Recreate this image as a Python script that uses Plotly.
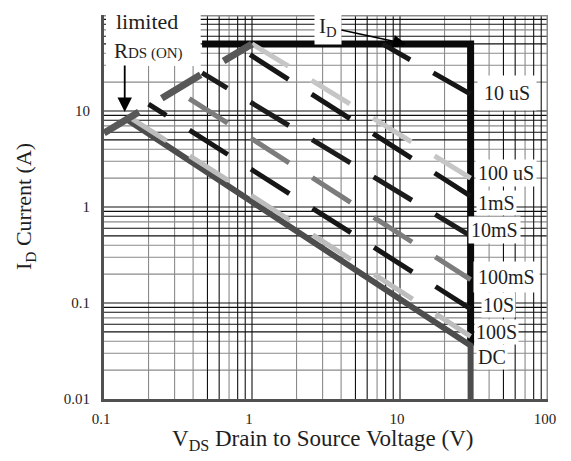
import math
import plotly.graph_objects as go

# ---------------- data ----------------
durations = ["10 uS", "100 uS", "1mS", "10mS", "100mS", "10S", "100S", "DC"]
start_vds = [7.6, 1.0, 0.85, 0.46, 0.30, 0.20, 0.138, 0.138]
start_id = [50, 50, 44, 25, 16.9, 11.8, 9.3, 8.45]
end_vds = [30, 30, 30, 30, 30, 30, 30, 30]
end_id = [15, 2.0, 1.3, 0.5, 0.175, 0.087, 0.045, 0.036]

rds_vds = [0.1, 1.0]
rds_id = [5.9, 50]

id_limit_vds = [0.46, 30, 30]
id_limit_id = [50, 50, 0.036]

x_ticks = [0.1, 1, 10, 100]
x_ticktext = ["0.1", "1", "10", "100"]
y_ticks = [0.01, 0.1, 1, 10, 100]
y_ticktext = ["0.01", "0.1", "1", "10", "100"]

# ---------------- styling ----------------
PAGE = 8                     # default body margin of the html page
PLOT_L, PLOT_T = 104, 15     # plot area corner in the window
PW, PH = 450, 384
W, H = 571 - 2 * PAGE, 461 - 2 * PAGE
L, T = PLOT_L - PAGE, PLOT_T - PAGE
R, B = W - L - PW, H - T - PH
XR = (-1, 2)
YR = (-2, 2)
FONT = "Liberation Serif"
TXT = "#1e1e1e"

line_style = {
    "10 uS": ("#161616", 5),
    "100 uS": ("#c6c6c6", 5),
    "1mS": ("#161616", 5),
    "10mS": ("#1c1c1c", 5),
    "100mS": ("#7c7c7c", 5),
    "10S": ("#161616", 5),
    "100S": ("#bdbdbd", 5),
    "DC": ("#4d4d4d", 6),
}


def to_px(v, i):
    x = PLOT_L + PW * (math.log10(v) - XR[0]) / (XR[1] - XR[0])
    y = PLOT_T + PH * (YR[1] - math.log10(i)) / (YR[1] - YR[0])
    return x, y


def px_paper_x(x):
    return (x - PLOT_L) / PW


def px_paper_y(y):
    return (PLOT_T + PH - y) / PH


def dash_for(v0, i0, v1, i1, col0, period=61.75, on=38.5):
    x0, y0 = to_px(v0, i0)
    x1, y1 = to_px(v1, i1)
    length = math.hypot(x1 - x0, y1 - y0)
    f = length / abs(x1 - x0)
    p = (x0 - col0) % period
    if p < on:
        seq = [(on - p) * f, (period - on) * f]
    else:
        seq = [0.0, (period - p) * f]
    total = sum(seq)
    while total < length + period * f:
        seq += [on * f, (period - on) * f]
        total += period * f
    return ",".join(f"{s:.2f}px" for s in seq)


fig = go.Figure()

# ---- grid (mixed black / grey lines, as in the scanned sheet) ----
black_m = {1, 5, 6, 8, 9}
gx = {"k": ([], []), "g": ([], [])}
for dec in [0.1, 1, 10]:
    for m in range(1, 10):
        v = m * dec
        if v <= 0.1:
            continue
        key = "k" if m in black_m else "g"
        gx[key][0].extend([v, v, None])
        gx[key][1].extend([0.01, 100, None])
for dec in [0.01, 0.1, 1, 10]:
    for m in range(1, 10):
        i = m * dec
        if i <= 0.01:
            continue
        key = "k" if m in black_m else "g"
        gx[key][0].extend([0.1, 100, None])
        gx[key][1].extend([i, i, None])
for key, col in (("g", "#8a8a8a"), ("k", "#111111")):
    fig.add_trace(go.Scatter(x=gx[key][0], y=gx[key][1], mode="lines",
                             line=dict(color=col, width=1.1),
                             hoverinfo="skip", showlegend=False))
# outer right / top border
fig.add_trace(go.Scatter(x=[0.1, 100, 100, None], y=[100, 100, 0.01, None], mode="lines",
                         line=dict(color="#8a8a8a", width=3), hoverinfo="skip", showlegend=False))

# ---- I_D limit and V_DS limit ----
fig.add_trace(go.Scatter(x=id_limit_vds, y=id_limit_id, mode="lines",
                         line=dict(color="#0a0a0a", width=7),
                         hoverinfo="skip", showlegend=False))

# ---- SOA curves ----
order = ["DC", "100S", "10S", "100mS", "10mS", "1mS", "100 uS", "10 uS"]
for name in order:
    k = durations.index(name)
    col, wdt = line_style[name]
    if name == "DC":
        dash = "solid"
        xs = [start_vds[k], end_vds[k], end_vds[k]]
        ys = [start_id[k], end_id[k], 0.01]
    else:
        dash = dash_for(start_vds[k], start_id[k], end_vds[k], end_id[k], col0=PLOT_L + 24.5)
        xs = [start_vds[k], end_vds[k]]
        ys = [start_id[k], end_id[k]]
    fig.add_trace(go.Scatter(x=xs, y=ys, mode="lines", name=name,
                             line=dict(color=col, width=wdt, dash=dash),
                             showlegend=False))

# ---- R_DS(on) limit (dashed) ----
fig.add_trace(go.Scatter(x=rds_vds, y=rds_id, mode="lines",
                         line=dict(color="#585858", width=7,
                                   dash=dash_for(rds_vds[0], rds_id[0], rds_vds[1], rds_id[1],
                                                 col0=100, period=62, on=39)),
                         showlegend=False))

# ---- annotations ----
ann = []
label_left = [488, 482, 482, 475, 482, 487, 480, 482]
label_y = [93, 173, 203, 230, 277, 305, 332, 357]
label_pad = [6, 2, 1, 2, 4, 1, 1, 1]
for name, lx, ly, pd in zip(durations, label_left, label_y, label_pad):
    ann.append(dict(text=name, xref="paper", yref="paper",
                    x=px_paper_x(lx - pd), y=px_paper_y(ly), xanchor="left", yanchor="middle",
                    showarrow=False, bgcolor="white", borderpad=pd,
                    font=dict(family=FONT, size=20, color=TXT)))

ann.append(dict(text="limited", xref="paper", yref="paper",
                x=px_paper_x(114), y=px_paper_y(21), xanchor="left", yanchor="middle",
                showarrow=False, font=dict(family=FONT, size=22, color=TXT)))
ann.append(dict(text="R<span style='font-size:15px'>DS (ON)</span>", xref="paper", yref="paper",
                x=px_paper_x(112), y=px_paper_y(51), xanchor="left", yanchor="middle",
                showarrow=False, font=dict(family=FONT, size=21, color=TXT)))
# arrow to R_DS(on) limit
ann.append(dict(text="", xref="paper", yref="paper",
                x=px_paper_x(125), y=px_paper_y(112), ax=0, ay=-48,
                showarrow=True, arrowhead=2, arrowsize=1.6, arrowwidth=1.8,
                arrowcolor="#000000"))
# I_D label with arrow
ann.append(dict(text="I<sub>D</sub>", xref="paper", yref="paper",
                x=px_paper_x(410), y=px_paper_y(44), ax=-78, ay=-17,
                showarrow=True, arrowhead=2, arrowsize=1.6, arrowwidth=1.6,
                arrowcolor="#000000", bgcolor="white", borderpad=4,
                font=dict(family=FONT, size=21, color=TXT)))

# axis titles
ann.append(dict(text="V<sub>DS</sub> Drain to Source Voltage (V)", xref="paper", yref="paper",
                x=px_paper_x(325), y=px_paper_y(440), xanchor="center", yanchor="middle",
                showarrow=False, font=dict(family=FONT, size=23, color=TXT)))
ann.append(dict(text="I<sub>D</sub> Current (A)", xref="paper", yref="paper",
                x=px_paper_x(24), y=px_paper_y(207), xanchor="center", yanchor="middle",
                textangle=-90, showarrow=False, font=dict(family=FONT, size=22, color=TXT)))

shapes = [dict(type="rect", xref="paper", yref="paper", layer="above",
               x0=px_paper_x(106), x1=px_paper_x(202), y0=px_paper_y(66), y1=px_paper_y(12),
               fillcolor="white", line=dict(width=0))]

fig.update_layout(
    width=W, height=H,
    margin=dict(l=L, r=R, t=T, b=B),
    paper_bgcolor="white", plot_bgcolor="white",
    annotations=ann, shapes=shapes,
    xaxis=dict(type="log", range=list(XR), tickvals=x_ticks, ticktext=x_ticktext,
               showgrid=False, zeroline=False, ticks="", showline=True,
               linecolor="#505050", linewidth=3, ticklabelstandoff=4,
               ticklabelshift=-3,
               tickfont=dict(family=FONT, size=15, color=TXT)),
    yaxis=dict(type="log", range=list(YR), tickvals=y_ticks, ticktext=y_ticktext,
               showgrid=False, zeroline=False, ticks="", showline=True,
               linecolor="#505050", linewidth=3, ticklabelstandoff=8,
               tickfont=dict(family=FONT, size=15, color=TXT)),
    showlegend=False,
)

fig.write_html("out.html")
